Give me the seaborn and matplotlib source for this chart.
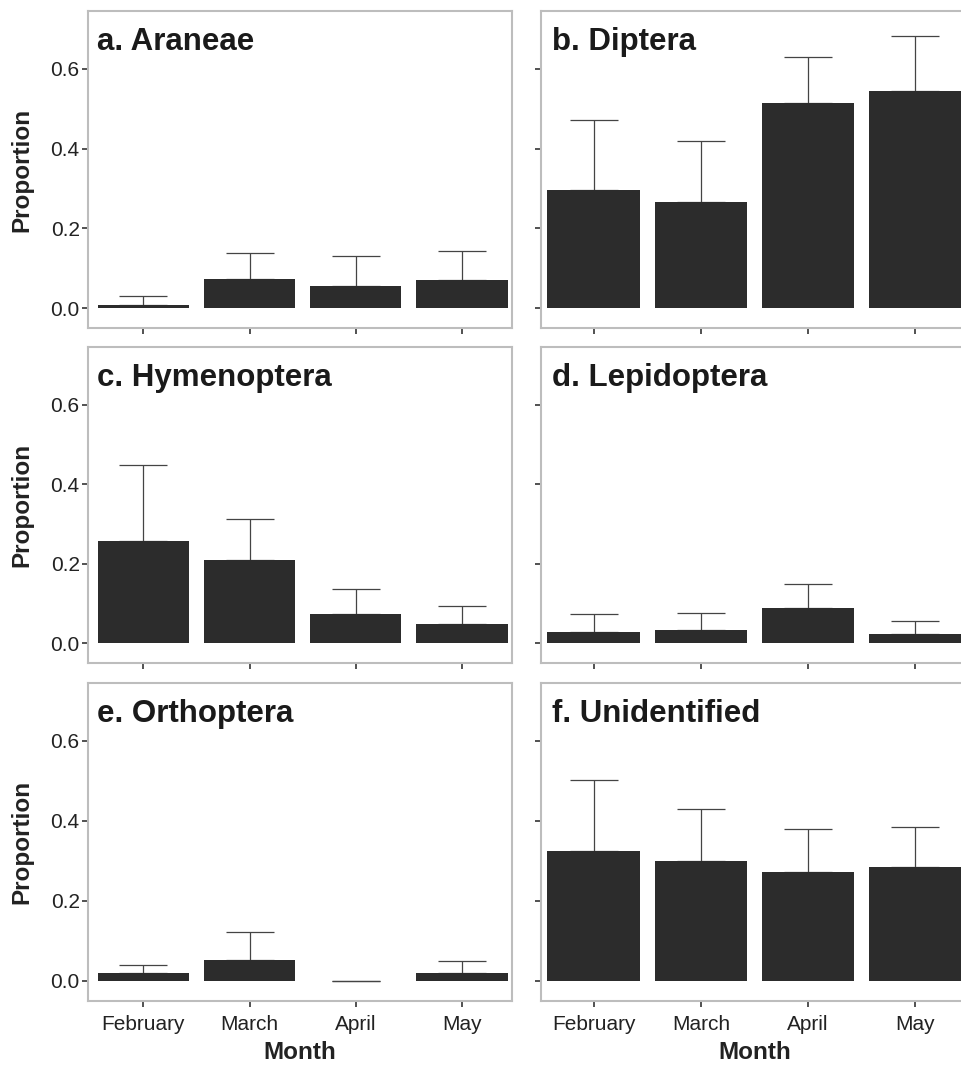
import matplotlib
matplotlib.use("Agg")
import matplotlib.pyplot as plt
import seaborn as sns
import numpy as np
import pandas as pd

months = ["February", "March", "April", "May"]

titles = ["a. Araneae", "b. Diptera", "c. Hymenoptera",
          "d. Lepidoptera", "e. Orthoptera", "f. Unidentified"]

araneae_mean = [0.008, 0.074, 0.056, 0.070]
araneae_err = [0.022, 0.064, 0.074, 0.073]
diptera_mean = [0.295, 0.267, 0.514, 0.544]
diptera_err = [0.176, 0.151, 0.116, 0.139]
hymenoptera_mean = [0.257, 0.210, 0.074, 0.049]
hymenoptera_err = [0.192, 0.103, 0.061, 0.045]
lepidoptera_mean = [0.028, 0.032, 0.088, 0.022]
lepidoptera_err = [0.045, 0.043, 0.060, 0.033]
orthoptera_mean = [0.019, 0.053, 0.0, 0.021]
orthoptera_err = [0.022, 0.069, 0.0, 0.029]
unidentified_mean = [0.325, 0.299, 0.273, 0.285]
unidentified_err = [0.178, 0.131, 0.107, 0.101]

yticks = [0.0, 0.2, 0.4, 0.6]
ytick_labels = ["0.0", "0.2", "0.4", "0.6"]

means = [araneae_mean, diptera_mean, hymenoptera_mean,
         lepidoptera_mean, orthoptera_mean, unidentified_mean]
errs = [araneae_err, diptera_err, hymenoptera_err,
        lepidoptera_err, orthoptera_err, unidentified_err]

sns.set_theme(style="white")
plt.rcParams['font.family'] = ['Liberation Sans', 'DejaVu Sans']

W, H = 962, 1067
fig = plt.figure(figsize=(W / 100, H / 100), dpi=100)

rows = [(11, 328), (347, 663), (683, 1001)]
cols = [(88, 424), (541, 428)]

bar_color = "#2c2c2c"
frame_color = "#bdbdbd"

for i in range(6):
    r, c = divmod(i, 2)
    top, bottom = rows[r]
    left, width = cols[c]
    ax = fig.add_axes([left / W, (H - bottom) / H, width / W, (bottom - top) / H])
    df = pd.DataFrame({"Month": months, "Proportion": means[i]})
    sns.barplot(data=df, x="Month", y="Proportion", color=bar_color,
                saturation=1, width=0.86, errorbar=None, ax=ax, zorder=2)
    for p in ax.patches:
        p.set_edgecolor("none")
    ax.errorbar(np.arange(len(months)), means[i],
                yerr=[np.zeros(len(months)), errs[i]],
                fmt="none", ecolor="#444444", elinewidth=0.9,
                capsize=17, capthick=0.9, zorder=1)
    ax.set_ylim(-0.05, 0.745)
    if c == 0:
        ax.set_xlim(-0.52, 3.47)
    else:
        ax.set_xlim(-0.49, 3.5)
    ax.set_yticks(yticks)
    for s in ax.spines.values():
        s.set_color(frame_color)
        s.set_linewidth(1.5)
    ax.tick_params(axis="both", which="both", direction="out", length=4,
                   width=1.2, color="#333333", labelsize=15,
                   labelcolor="#222222", left=True, bottom=True, pad=2)
    ax.tick_params(axis="x", pad=6)
    if c == 0:
        ax.set_yticklabels(ytick_labels)
        ax.set_ylabel("Proportion", fontsize=17.5, fontweight="bold",
                      color="#222222", labelpad=12)
    else:
        ax.set_yticklabels([])
        ax.set_ylabel("")
    if r == 2:
        ax.set_xticks(range(len(months)))
        ax.set_xticklabels(months)
        ax.set_xlabel("Month", fontsize=17.5, fontweight="bold",
                      color="#222222", labelpad=5)
    else:
        ax.set_xticklabels([])
        ax.set_xlabel("")
    tx = 0.021 if c == 0 else 0.026
    ax.text(tx, 0.877, titles[i], transform=ax.transAxes, fontsize=22.5,
            fontweight="bold", color="#1a1a1a", va="baseline", ha="left")

fig.savefig("out.png", dpi=100)
